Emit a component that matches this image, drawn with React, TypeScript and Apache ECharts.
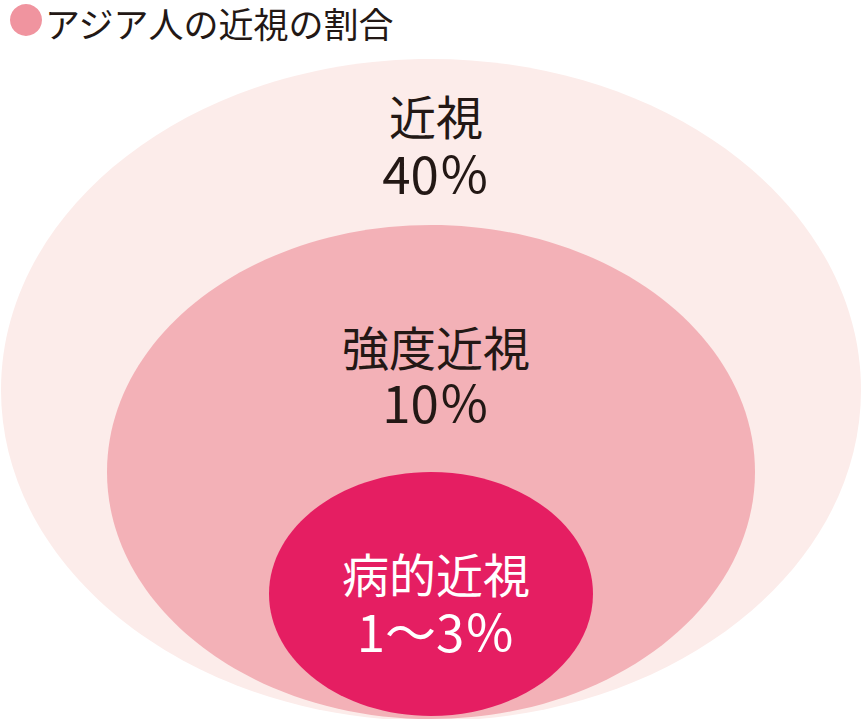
import React, { useEffect, useRef } from "react";
import * as echarts from "echarts";

const titleText = "アジア人の近視の割合";
const categories = ["近視", "強度近視", "病的近視"];
const valueLabels = ["40％", "10％", "1〜3％"];
const fillColors = ["#FCECEA", "#F3B1B7", "#E51E62"];
const textColors = ["#231815", "#231815", "#FFFFFF"];
// ellipse layout in chart units: cx, cy, rx, ry, name-line y, value-line y
const cxs = [431, 431, 431];
const cys = [390, 472, 594];
const rxs = [430, 324, 162];
const rys = [331, 247, 122];
const nameYs = [114, 345, 572];
const valueYs = [172, 401, 630];

const FONT = '"Noto Sans CJK JP", "Noto Sans", sans-serif';

export default function App() {
  const ref = useRef<HTMLDivElement>(null);
  useEffect(() => {
    if (!ref.current) return;
    const chart = echarts.init(ref.current, undefined, { renderer: "svg" });
    const data = categories.map((c, i) => [cxs[i], cys[i], rxs[i], rys[i], nameYs[i], valueYs[i], i]);
    chart.setOption({
      animation: false,
      backgroundColor: "#FFFFFF",
      grid: { left: 0, right: 0, top: 0, bottom: 0 },
      xAxis: { type: "value", min: 0, max: 862, show: false },
      yAxis: { type: "value", min: 0, max: 719, inverse: true, show: false },
      graphic: [
        { type: "circle", shape: { cx: 26, cy: 20, r: 16 }, style: { fill: "#F0949F" } },
        {
          type: "text",
          x: 45,
          y: 22,
          style: {
            text: titleText,
            fontSize: 35,
            lineHeight: 36,
            fontFamily: FONT,
            fill: "#231815",
            verticalAlign: "middle",
            align: "left",
          },
        },
      ],
      series: [
        {
          type: "custom",
          coordinateSystem: "cartesian2d",
          data,
          silent: true,
          renderItem: (params: any, api: any) => {
            const i = api.value(6);
            const c = api.coord([api.value(0), api.value(1)]);
            const e = api.coord([api.value(0) + api.value(2), api.value(1) + api.value(3)]);
            const n = api.coord([api.value(0), api.value(4)]);
            const v = api.coord([api.value(0), api.value(5)]);
            return {
              type: "group",
              children: [
                {
                  type: "ellipse",
                  shape: { cx: c[0], cy: c[1], rx: Math.abs(e[0] - c[0]), ry: Math.abs(e[1] - c[1]) },
                  style: { fill: fillColors[i] },
                  z2: i * 3,
                },
                {
                  type: "text",
                  z2: i * 3 + 1,
                  style: {
                    text: categories[i],
                    x: n[0] + 5,
                    y: n[1],
                    fill: textColors[i],
                    fontSize: 47,
                    lineHeight: 48,
                    fontFamily: FONT,
                    align: "center",
                    verticalAlign: "middle",
                  },
                },
                {
                  type: "text",
                  z2: i * 3 + 2,
                  style: {
                    text: valueLabels[i],
                    x: v[0] + 5,
                    y: v[1],
                    fill: textColors[i],
                    fontSize: 51,
                    lineHeight: 52,
                    fontFamily: FONT,
                    align: "center",
                    verticalAlign: "middle",
                  },
                },
              ],
            };
          },
        },
      ],
    });
    return () => chart.dispose();
  }, []);
  return (
    <div
      ref={ref}
      style={{ position: "fixed", left: 0, top: 0, width: 862, height: 719 }}
    />
  );
}
